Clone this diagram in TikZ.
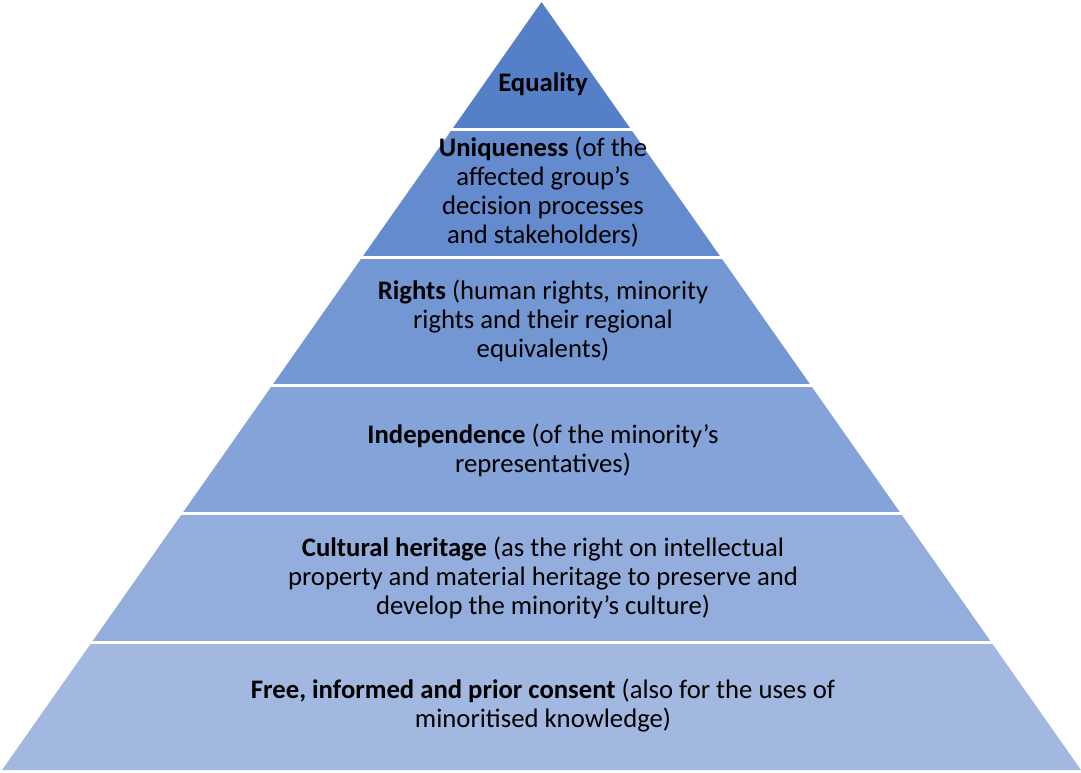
\documentclass[tikz,border=0pt]{standalone}
\usepackage{fontspec}
\setmainfont{Carlito}
\usepackage{tikz}
\usetikzlibrary{calc}

\definecolor{tierA}{RGB}{85,128,200}
\definecolor{tierB}{RGB}{99,139,206}
\definecolor{tierC}{RGB}{115,151,211}
\definecolor{tierD}{RGB}{131,163,217}
\definecolor{tierE}{RGB}{147,174,221}
\definecolor{tierF}{RGB}{162,184,224}

\tikzset{
  tierlabel/.style={align=center, text=black, font=\fontsize{26.7}{29}\selectfont},
  gap/.style={white, line width=3pt}
}

\begin{document}
\begin{tikzpicture}[x=1pt, y=-1pt]
\useasboundingbox (0,0) rectangle (1081,772);
% outline of the whole pyramid
\coordinate (apex) at (541.5,2);
\coordinate (baseL) at (2,770);
\coordinate (baseR) at (1081,770);

% tiers, bottom up
\fill[tierF] ($(apex)!642/770!(baseL)$) -- (baseL) -- (baseR) -- ($(apex)!642/770!(baseR)$) -- cycle;
\fill[tierE] ($(apex)!513.5/770!(baseL)$) -- ($(apex)!642/770!(baseL)$) -- ($(apex)!642/770!(baseR)$) -- ($(apex)!513.5/770!(baseR)$) -- cycle;
\fill[tierD] ($(apex)!385/770!(baseL)$) -- ($(apex)!513.5/770!(baseL)$) -- ($(apex)!513.5/770!(baseR)$) -- ($(apex)!385/770!(baseR)$) -- cycle;
\fill[tierC] ($(apex)!257/770!(baseL)$) -- ($(apex)!385/770!(baseL)$) -- ($(apex)!385/770!(baseR)$) -- ($(apex)!257/770!(baseR)$) -- cycle;
\fill[tierB] ($(apex)!129.5/770!(baseL)$) -- ($(apex)!257/770!(baseL)$) -- ($(apex)!257/770!(baseR)$) -- ($(apex)!129.5/770!(baseR)$) -- cycle;
\fill[tierA] (apex) -- ($(apex)!129.5/770!(baseL)$) -- ($(apex)!129.5/770!(baseR)$) -- cycle;

% white separators
\foreach \h in {129.5,257,385,513.5,642}
  \draw[gap] (0,\h) -- (1081,\h);

% labels
\node[tierlabel] (equality) at (543,84) {\textbf{Equality}};
\node[tierlabel] (uniqueness) at (543,192) {\textbf{Uniqueness} (of the\\affected group’s\\decision processes\\and stakeholders)};
\node[tierlabel] (rights) at (543,321) {\textbf{Rights} (human rights, minority\\rights and their regional\\equivalents)};
\node[tierlabel] (independence) at (543,450) {\textbf{Independence} (of the minority’s\\representatives)};
\node[tierlabel] (heritage) at (543,578) {\textbf{Cultural heritage} (as the right on intellectual\\property and material heritage to preserve and\\develop the minority’s culture)};
\node[tierlabel] (consent) at (543,706) {\textbf{Free, informed and prior consent} (also for the uses of\\minoritised knowledge)};
\end{tikzpicture}
\end{document}
